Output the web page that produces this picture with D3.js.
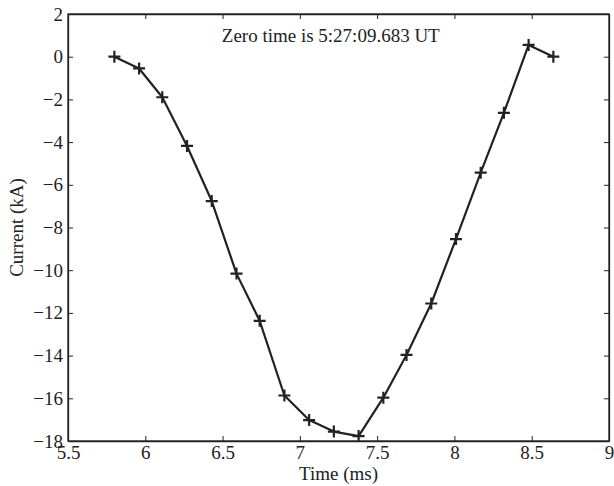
<!DOCTYPE html>
<html>
<head>
<meta charset="utf-8">
<script src="https://cdn.jsdelivr.net/npm/d3@7"></script>
<style>
  body { margin: 0; background: #fff; }
  svg text { font-family: "Liberation Serif", "Times New Roman", serif !important; fill: #222; }
</style>
</head>
<body>
<div class="container"></div>
<script>
// sample times (ms) and current (kA)
let timeMs = [5.80, 5.96, 6.11, 6.27, 6.43, 6.59, 6.74, 6.90, 7.06, 7.22, 7.38,
              7.54, 7.69, 7.85, 8.01, 8.17, 8.32, 8.48, 8.64]
let currentKA = [0, -0.55, -1.9, -4.18, -6.76, -10.16, -12.37, -15.87, -17.02, -17.56, -17.77,
                 -15.97, -13.97, -11.56, -8.54, -5.43, -2.63, 0.55, 0]
let xTicks = [5.5, 6, 6.5, 7, 7.5, 8, 8.5, 9]
let yTicks = [-18, -16, -14, -12, -10, -8, -6, -4, -2, 0, 2]

let width = 614
let height = 486
let margin = { left: 68, right: 5, top: 14, bottom: 45 }
let ink = "#222"
let serif = "Liberation Serif, Times New Roman, serif"

let svg = d3.select(".container")
  .append("svg")
  .attr("width", width)
  .attr("height", height)

let x = d3.scaleLinear().domain([5.5, 9]).range([margin.left, width - margin.right])
let y = d3.scaleLinear().domain([-18, 2]).range([height - margin.bottom, margin.top])

let fmt = function (d) { return d < 0 ? "\u2212" + Math.abs(d) : String(d) }

function styleLabels(g) {
  g.attr("font-family", serif)
  g.selectAll("text")
    .attr("font-size", "19px")
    .attr("fill", ink)
    .style("font-family", serif)
}

// bottom + top axes, ticks point inward
svg.append("g")
  .attr("transform", `translate(0,${y(-18)})`)
  .call(d3.axisBottom(x).tickValues(xTicks).tickSizeInner(-5).tickSizeOuter(0).tickPadding(5).tickFormat(fmt))
  .call(styleLabels)
svg.append("g")
  .attr("transform", `translate(0,${y(2)})`)
  .call(d3.axisTop(x).tickValues(xTicks).tickSizeInner(-5).tickSizeOuter(0).tickFormat(""))

svg.append("g")
  .attr("transform", `translate(${x(5.5)},0)`)
  .call(d3.axisLeft(y).tickValues(yTicks).tickSizeInner(-5).tickSizeOuter(0).tickPadding(5).tickFormat(fmt))
  .call(styleLabels)
svg.append("g")
  .attr("transform", `translate(${x(9)},0)`)
  .call(d3.axisRight(y).tickValues(yTicks).tickSizeInner(-5).tickSizeOuter(0).tickFormat(""))

svg.selectAll(".domain").attr("stroke", ink).attr("stroke-width", 1.3)
svg.selectAll(".tick line").attr("stroke", ink).attr("stroke-width", 1)
// full box frame like matlab
svg.append("rect")
  .attr("x", x(5.5)).attr("y", y(2))
  .attr("width", x(9) - x(5.5)).attr("height", y(-18) - y(2))
  .attr("fill", "none").attr("stroke", ink).attr("stroke-width", 1.3)

let pts = timeMs.map(function (t, i) { return { t: t, c: currentKA[i] } })

svg.append("path")
  .datum(pts)
  .attr("fill", "none")
  .attr("stroke", ink)
  .attr("stroke-width", 2.2)
  .attr("stroke-linejoin", "round")
  .attr("d", d3.line().x(d => x(d.t)).y(d => y(d.c)))

svg.selectAll(".mark")
  .data(pts)
  .enter()
  .append("path")
  .attr("class", "mark")
  .attr("d", function (d) {
    let px = x(d.t), py = y(d.c), s = 6
    return `M${px - s},${py}H${px + s}M${px},${py - s}V${py + s}`
  })
  .attr("stroke", ink)
  .attr("stroke-width", 2.2)

svg.append("text")
  .attr("x", x(7.2)).attr("y", 42)
  .attr("text-anchor", "middle")
  .attr("font-size", "19px")
  .text("Zero time is 5:27:09.683 UT")

svg.append("text")
  .attr("x", (x(5.5) + x(9)) / 2).attr("y", 480)
  .attr("text-anchor", "middle")
  .attr("font-size", "19px")
  .text("Time (ms)")

svg.append("text")
  .attr("transform", `translate(23,${(y(2) + y(-18)) / 2}) rotate(-90)`)
  .attr("text-anchor", "middle")
  .attr("font-size", "19px")
  .text("Current (kA)")
</script>
</body>
</html>
